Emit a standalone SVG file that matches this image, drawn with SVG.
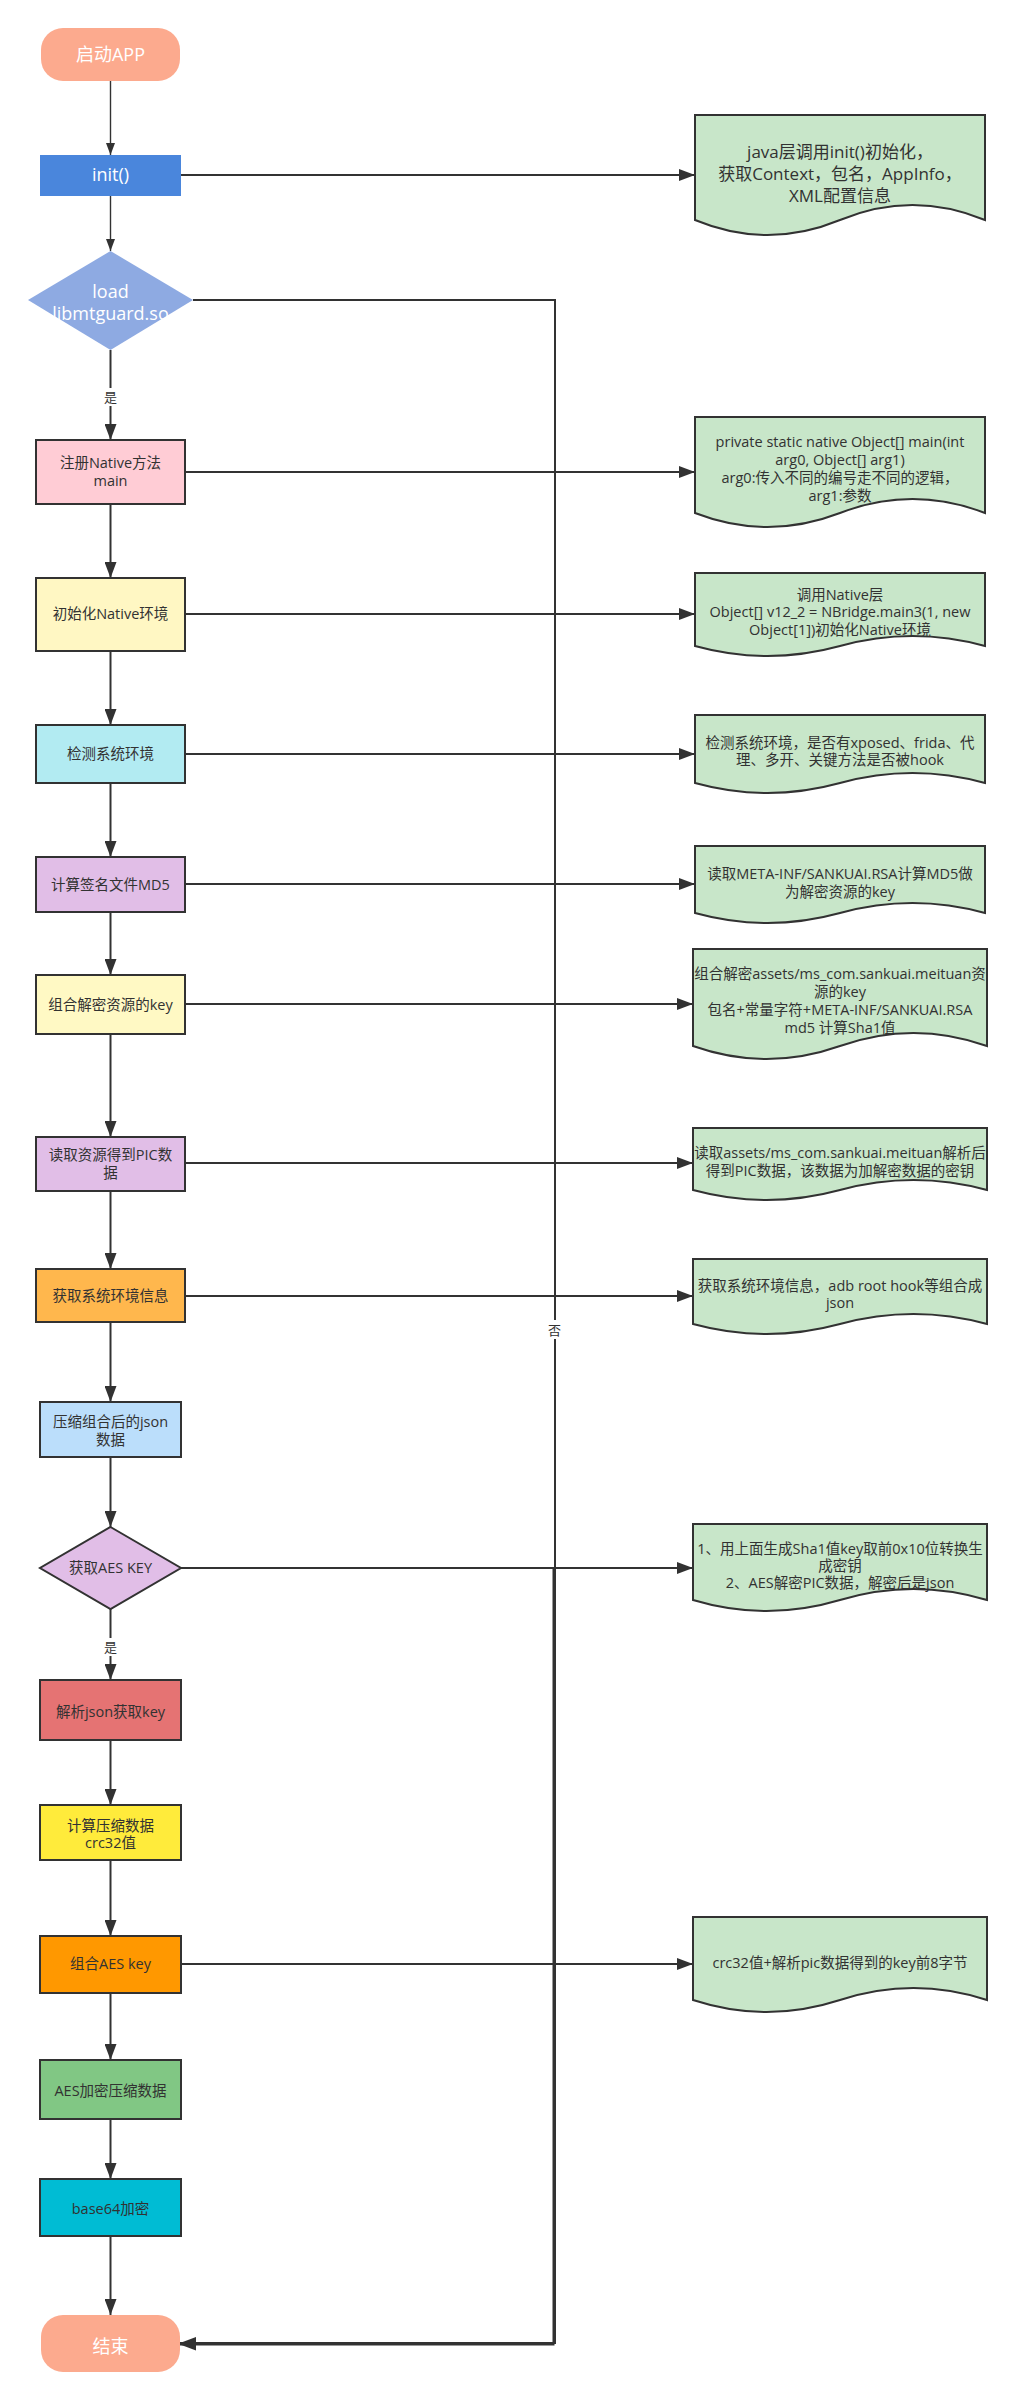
<svg xmlns="http://www.w3.org/2000/svg" width="1014" height="2400" viewBox="0 0 1014 2400">
<style>
.t{font-family:"Open Sans","Noto Sans CJK SC",sans-serif;font-size:14.5px;fill:#323232;text-anchor:middle}
.w{fill:#ffffff;font-size:18px}
.n1{font-size:17px}
.lb{font-size:13px}
.box{stroke:#323232;stroke-width:2}
.note{fill:#c8e6c9;stroke:#323232;stroke-width:2}
.c{fill:none;stroke:#323232;stroke-width:2}
.thin{fill:none;stroke:#323232;stroke-width:1.4}
</style>
<defs>
<marker id="a" viewBox="0 0 16 12" refX="16" refY="6" markerWidth="16" markerHeight="12" markerUnits="userSpaceOnUse" orient="auto"><path d="M0,0 L16,6 L0,12 Z" fill="#323232"/></marker>
<marker id="s" viewBox="0 0 12 9" refX="12" refY="4.5" markerWidth="12" markerHeight="9" markerUnits="userSpaceOnUse" orient="auto"><path d="M0,0 L12,4.5 L0,9 Z" fill="#323232"/></marker>
</defs>
<rect width="1014" height="2400" fill="#ffffff"/>

<g id="connectors">
<path class="thin" d="M110.5,81 V155" marker-end="url(#s)"/>
<path class="thin" d="M110.5,196 V251" marker-end="url(#s)"/>
<path class="c" d="M181,175 H695" marker-end="url(#a)"/>
<path class="c" d="M110.5,350 V440" marker-end="url(#a)"/>
<path class="c" d="M193,300 H555 V2343 H180" marker-end="url(#a)"/>
<path class="c" d="M110.5,504 V578" marker-end="url(#a)"/>
<path class="c" d="M185,472 H695" marker-end="url(#a)"/>
<path class="c" d="M110.5,651 V725" marker-end="url(#a)"/>
<path class="c" d="M185,614 H695" marker-end="url(#a)"/>
<path class="c" d="M110.5,783 V857" marker-end="url(#a)"/>
<path class="c" d="M185,754 H695" marker-end="url(#a)"/>
<path class="c" d="M110.5,912 V975" marker-end="url(#a)"/>
<path class="c" d="M185,884 H695" marker-end="url(#a)"/>
<path class="c" d="M110.5,1034 V1137" marker-end="url(#a)"/>
<path class="c" d="M185,1004 H693" marker-end="url(#a)"/>
<path class="c" d="M110.5,1191 V1269" marker-end="url(#a)"/>
<path class="c" d="M185,1163 H693" marker-end="url(#a)"/>
<path class="c" d="M110.5,1322 V1402" marker-end="url(#a)"/>
<path class="c" d="M185,1296 H693" marker-end="url(#a)"/>
<path class="c" d="M110.5,1457 V1527" marker-end="url(#a)"/>
<path class="c" d="M181,1568 H693" marker-end="url(#a)"/>
<path class="c" d="M181,1568 H553.5 V2344.5 H180" marker-end="url(#a)"/>
<path class="c" d="M110.5,1609 V1680" marker-end="url(#a)"/>
<path class="c" d="M110.5,1740 V1805" marker-end="url(#a)"/>
<path class="c" d="M110.5,1860 V1936" marker-end="url(#a)"/>
<path class="c" d="M181,1964 H693" marker-end="url(#a)"/>
<path class="c" d="M110.5,1993 V2060" marker-end="url(#a)"/>
<path class="c" d="M110.5,2119 V2179" marker-end="url(#a)"/>
<path class="c" d="M110.5,2236 V2315" marker-end="url(#a)"/>
<rect x="102" y="388" width="17" height="18" fill="#ffffff"/>
<text class="t lb" x="110.5" y="401.5">是</text>
<rect x="546" y="1320" width="17" height="19" fill="#ffffff"/>
<text class="t lb" x="554.5" y="1334.5">否</text>
<rect x="102" y="1638" width="17" height="18" fill="#ffffff"/>
<text class="t lb" x="110.5" y="1651.5">是</text>
</g>

<g id="start">
<rect x="41" y="28" width="139" height="53" rx="22" fill="#fcaa8e"/>
<text class="t w" x="110.5" y="61">启动APP</text>
</g>
<g id="init">
<rect x="40" y="155" width="141" height="41" fill="#4a86dc"/>
<text class="t w" x="110.5" y="181">init()</text>
</g>
<g id="load">
<polygon points="110.5,251 193,300 110.5,350 28,300" fill="#8eaae2"/>
<text class="t w" x="110.5" y="298">load</text>
<text class="t w" x="110.5" y="320">libmtguard.so</text>
</g>
<g id="register">
<rect class="box" x="36" y="440" width="149" height="64" fill="#ffccd5"/>
<text class="t" x="110.5" y="468">注册Native方法</text>
<text class="t" x="110.5" y="486">main</text>
</g>
<g id="initNative">
<rect class="box" x="36" y="578" width="149" height="73" fill="#fff7c3"/>
<text class="t" x="110.5" y="619">初始化Native环境</text>
</g>
<g id="detect">
<rect class="box" x="36" y="725" width="149" height="58" fill="#b2ebf2"/>
<text class="t" x="110.5" y="759">检测系统环境</text>
</g>
<g id="md5">
<rect class="box" x="36" y="857" width="149" height="55" fill="#e1bee7"/>
<text class="t" x="110.5" y="890">计算签名文件MD5</text>
</g>
<g id="combineKey">
<rect class="box" x="36" y="975" width="149" height="59" fill="#fff9c4"/>
<text class="t" x="110.5" y="1010">组合解密资源的key</text>
</g>
<g id="readPic">
<rect class="box" x="36" y="1137" width="149" height="54" fill="#e1bee7"/>
<text class="t" x="110.5" y="1160">读取资源得到PIC数</text>
<text class="t" x="110.5" y="1178">据</text>
</g>
<g id="sysInfo">
<rect class="box" x="36" y="1269" width="149" height="53" fill="#ffb74d"/>
<text class="t" x="110.5" y="1301">获取系统环境信息</text>
</g>
<g id="compress">
<rect class="box" x="40" y="1402" width="141" height="55" fill="#bbdefb"/>
<text class="t" x="110.5" y="1427">压缩组合后的json</text>
<text class="t" x="110.5" y="1445">数据</text>
</g>
<g id="aesKeyDecision">
<polygon class="box" points="110.5,1527 181,1568 110.5,1609 40,1568" fill="#e1bee7"/>
<text class="t" x="110.5" y="1573">获取AES KEY</text>
</g>
<g id="parseJson">
<rect class="box" x="40" y="1680" width="141" height="60" fill="#e57373"/>
<text class="t" x="110.5" y="1717">解析json获取key</text>
</g>
<g id="crc32">
<rect class="box" x="40" y="1805" width="141" height="55" fill="#ffeb3b"/>
<text class="t" x="110.5" y="1831">计算压缩数据</text>
<text class="t" x="110.5" y="1848">crc32值</text>
</g>
<g id="combineAes">
<rect class="box" x="40" y="1936" width="141" height="57" fill="#ff9800"/>
<text class="t" x="110.5" y="1969">组合AES key</text>
</g>
<g id="aesEncrypt">
<rect class="box" x="40" y="2060" width="141" height="59" fill="#81c784"/>
<text class="t" x="110.5" y="2096">AES加密压缩数据</text>
</g>
<g id="base64">
<rect class="box" x="40" y="2179" width="141" height="57" fill="#00bcd4"/>
<text class="t" x="110.5" y="2214">base64加密</text>
</g>
<g id="end">
<rect x="41" y="2315" width="139" height="57" rx="22" fill="#fcaa8e"/>
<text class="t w" x="110.5" y="2353">结束</text>
</g>

<g id="note1">
<path class="note" d="M695,115 H985 V220 Q912.5,190 840,220 Q767.5,250 695,220 Z"/>
<text class="t n1" x="840" y="158">java层调用init()初始化，</text>
<text class="t n1" x="840" y="180">获取Context，包名，AppInfo，</text>
<text class="t n1" x="840" y="202">XML配置信息</text>
</g>
<g id="note2">
<path class="note" d="M695,417 H985 V513 Q912.5,485 840,513 Q767.5,541 695,513 Z"/>
<text class="t" x="840" y="447">private static native Object[] main(int</text>
<text class="t" x="840" y="465">arg0, Object[] arg1)</text>
<text class="t" x="840" y="483">arg0:传入不同的编号走不同的逻辑，</text>
<text class="t" x="840" y="501">arg1:参数</text>
</g>
<g id="note3">
<path class="note" d="M695,573 H985 V646 Q912.5,626 840,646 Q767.5,666 695,646 Z"/>
<text class="t" x="840" y="600">调用Native层</text>
<text class="t" x="840" y="617">Object[] v12_2 = NBridge.main3(1, new</text>
<text class="t" x="840" y="635">Object[1])初始化Native环境</text>
</g>
<g id="note4">
<path class="note" d="M695,715 H985 V783 Q912.5,763 840,783 Q767.5,803 695,783 Z"/>
<text class="t" x="840" y="748">检测系统环境，是否有xposed、frida、代</text>
<text class="t" x="840" y="765">理、多开、关键方法是否被hook</text>
</g>
<g id="note5">
<path class="note" d="M695,846 H985 V913 Q912.5,893 840,913 Q767.5,933 695,913 Z"/>
<text class="t" x="840" y="879">读取META-INF/SANKUAI.RSA计算MD5做</text>
<text class="t" x="840" y="897">为解密资源的key</text>
</g>
<g id="note6">
<path class="note" d="M693,949 H987 V1046 Q913.5,1020 840,1046 Q766.5,1072 693,1046 Z"/>
<text class="t" x="840" y="979">组合解密assets/ms_com.sankuai.meituan资</text>
<text class="t" x="840" y="997">源的key</text>
<text class="t" x="840" y="1015">包名+常量字符+META-INF/SANKUAI.RSA</text>
<text class="t" x="840" y="1033">md5 计算Sha1值</text>
</g>
<g id="note7">
<path class="note" d="M693,1128 H987 V1190 Q913.5,1170 840,1190 Q766.5,1210 693,1190 Z"/>
<text class="t" x="840" y="1158">读取assets/ms_com.sankuai.meituan解析后</text>
<text class="t" x="840" y="1176">得到PIC数据，该数据为加解密数据的密钥</text>
</g>
<g id="note8">
<path class="note" d="M693,1259 H987 V1324 Q913.5,1304 840,1324 Q766.5,1344 693,1324 Z"/>
<text class="t" x="840" y="1291">获取系统环境信息，adb root hook等组合成</text>
<text class="t" x="840" y="1308">json</text>
</g>
<g id="note9">
<path class="note" d="M693,1524 H987 V1600 Q913.5,1578 840,1600 Q766.5,1622 693,1600 Z"/>
<text class="t" x="840" y="1554">1、用上面生成Sha1值key取前0x10位转换生</text>
<text class="t" x="840" y="1571">成密钥</text>
<text class="t" x="840" y="1588">2、AES解密PIC数据，解密后是json</text>
</g>
<g id="note10">
<path class="note" d="M693,1917 H987 V2000 Q913.5,1976 840,2000 Q766.5,2024 693,2000 Z"/>
<text class="t" x="840" y="1968">crc32值+解析pic数据得到的key前8字节</text>
</g>
</svg>
